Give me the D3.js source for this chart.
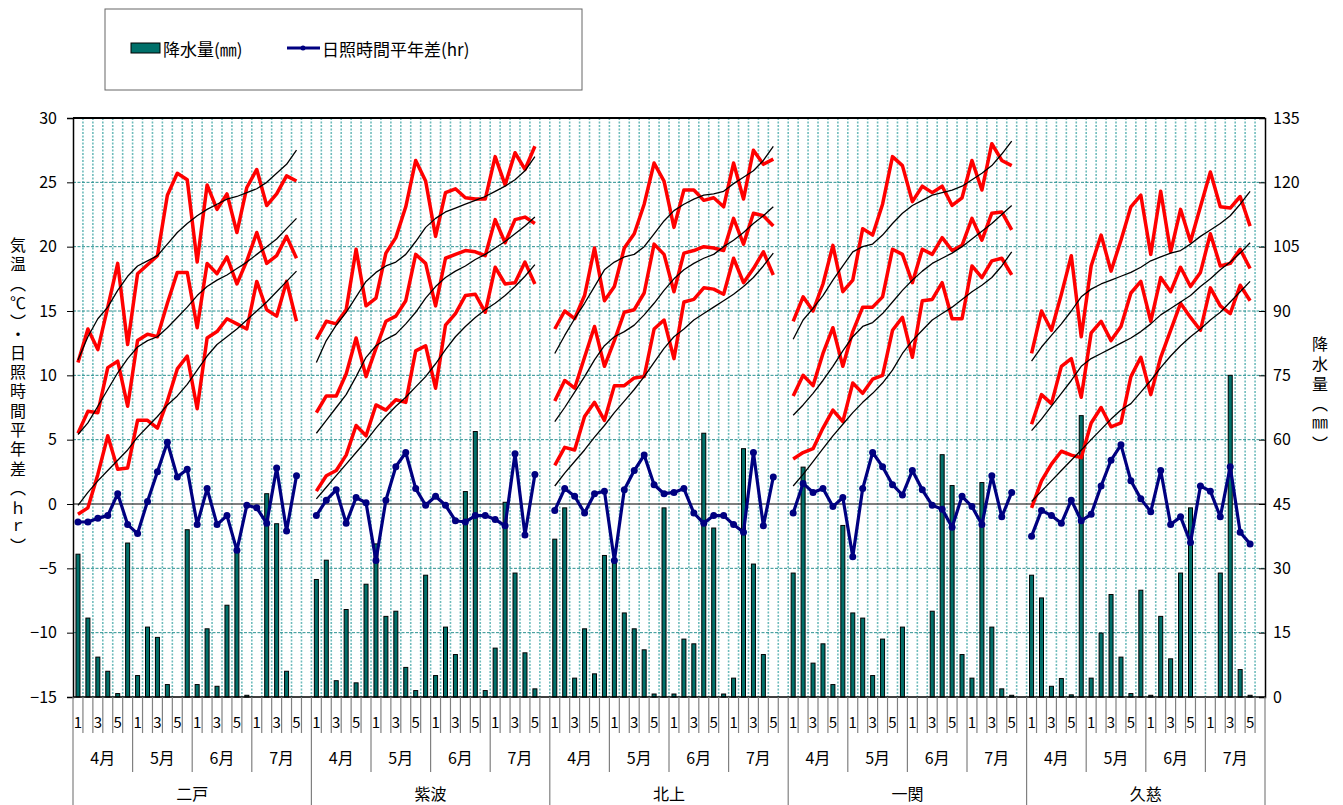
<!DOCTYPE html>
<html>
<head>
<meta charset="utf-8">
<script src="https://cdn.jsdelivr.net/npm/d3@7"></script>
<style>
body { margin: 0; background: #fff; }
svg text { font-family: "Noto Sans CJK JP", "Noto Sans", sans-serif; fill: #000; }
</style>
</head>
<body>
<div id="chart"></div>
<script>
// station / month / pentad labels
var stations = ["二戸", "紫波", "北上", "一関", "久慈"];
var months = ["4月", "5月", "6月", "7月"];
var pentads = ["1", "", "3", "", "5", ""];

// one array per station, pentads 4月1 .. 7月5 (23 values)
var maxTemp = [
  [11.0,13.6,12.0,15.3,18.7,12.4,17.9,18.6,19.3,24.0,25.7,25.2,18.8,24.8,22.9,24.1,21.1,24.6,26.0,23.2,24.1,25.5,25.1],
  [12.8,14.2,14.0,15.1,19.8,15.4,16.0,19.5,20.7,23.1,26.7,25.1,20.8,24.2,24.5,23.8,23.7,23.7,27.0,24.8,27.3,26.0,27.8],
  [13.6,15.0,14.4,16.2,19.9,15.8,16.9,19.9,21.0,23.3,26.5,25.1,21.5,24.4,24.4,23.6,23.8,23.1,26.5,23.7,27.5,26.4,26.8],
  [14.2,16.1,15.0,17.1,20.1,16.5,17.4,21.4,20.9,23.3,27.0,26.3,23.5,24.7,24.2,24.7,23.2,23.8,26.7,24.4,28.0,26.7,26.3],
  [11.7,15.0,13.5,16.3,19.3,13.0,18.5,20.9,18.1,20.5,23.1,24.0,19.4,24.3,19.6,22.9,20.4,23.1,25.8,23.1,23.0,23.9,21.6]
];
var maxNormal = [
  [11.2,13.0,14.4,15.3,16.6,17.7,18.5,18.9,19.3,20.2,21.1,21.8,22.4,22.9,23.3,23.7,23.9,24.2,24.5,25.0,25.7,26.4,27.5],
  [11.0,12.7,13.9,14.9,16.1,17.3,18.0,18.5,18.8,19.4,20.4,21.5,22.2,22.7,23.0,23.3,23.6,23.9,24.3,24.7,25.2,25.9,27.0],
  [11.7,13.1,14.4,15.6,16.9,18.2,18.8,19.2,19.4,20.0,21.0,22.0,22.8,23.3,23.7,24.0,24.1,24.3,24.9,25.4,25.9,26.7,27.8],
  [12.8,14.3,15.2,16.2,17.4,18.5,19.6,20.0,20.2,20.9,21.8,22.6,23.2,23.6,24.0,24.2,24.4,24.7,25.2,25.7,26.3,27.2,28.2],
  [11.1,12.2,13.1,14.0,15.0,16.1,16.7,17.1,17.4,17.7,18.0,18.4,18.9,19.2,19.5,19.7,20.2,20.8,21.3,21.8,22.4,23.3,24.3]
];
var meanTemp = [
  [5.5,7.2,7.1,10.6,11.1,7.6,12.7,13.2,13.0,15.6,18.0,18.0,13.7,18.7,17.9,19.2,17.1,18.9,21.1,18.7,19.3,20.8,19.1],
  [7.1,8.4,8.4,10.1,12.9,9.9,12.1,14.2,14.6,15.8,19.4,18.7,15.4,19.1,19.4,19.7,19.6,19.3,22.1,20.3,22.1,22.3,21.8],
  [8.0,9.6,9.0,11.4,13.8,10.7,12.7,14.9,15.1,16.4,20.2,19.4,16.5,19.5,19.7,20.0,19.9,19.7,22.2,20.2,22.6,22.4,21.6],
  [8.4,10.0,9.2,11.7,13.7,10.7,13.4,15.3,15.3,16.1,19.8,19.4,17.2,19.8,19.4,20.7,19.7,20.1,22.2,20.5,22.6,22.7,21.3],
  [6.2,8.5,7.8,10.7,11.3,8.3,13.3,14.2,12.7,13.8,16.4,17.3,14.2,17.6,16.5,18.4,16.9,18.0,21.0,18.5,18.7,19.8,18.3]
];
var meanNormal = [
  [5.4,6.3,7.6,8.9,10.2,11.3,12.2,12.7,13.0,13.7,14.5,15.3,16.2,16.9,17.4,17.8,18.3,18.8,19.4,20.0,20.6,21.4,22.2],
  [5.5,6.5,7.5,8.5,9.9,11.4,12.3,12.8,13.2,14.0,14.9,16.0,16.9,17.6,18.1,18.5,19.0,19.4,19.9,20.4,21.0,21.6,22.3],
  [6.4,7.5,8.7,9.9,11.2,12.3,13.0,13.4,13.9,14.7,15.6,16.6,17.5,18.2,18.7,19.1,19.4,20.0,20.5,21.1,21.8,22.4,23.1],
  [6.9,7.7,8.6,9.6,10.7,11.9,13.0,13.8,14.1,14.8,15.7,16.6,17.4,18.1,18.7,19.1,19.5,20.0,20.6,21.2,21.8,22.5,23.2],
  [5.7,6.6,7.6,8.6,9.6,10.7,11.3,11.7,12.1,12.5,12.9,13.4,14.0,14.7,15.2,15.7,16.2,16.9,17.5,18.2,18.8,19.5,20.3]
];
var minTemp = [
  [-0.8,-0.3,2.3,5.3,2.7,2.8,6.5,6.5,5.9,8.0,10.5,11.5,7.4,12.9,13.4,14.4,14.0,13.6,17.3,15.1,14.6,17.3,14.2],
  [1.0,2.2,2.6,3.8,6.1,5.3,7.7,7.3,8.1,7.9,11.9,12.3,9.0,13.9,14.8,16.2,16.3,14.9,18.4,17.1,17.2,18.8,17.1],
  [3.0,4.4,4.2,6.8,7.9,6.5,9.2,9.2,9.8,9.9,13.6,14.3,11.3,15.7,15.9,16.8,16.7,16.3,19.1,17.2,18.3,19.6,17.8],
  [3.5,4.0,4.3,5.9,7.3,6.4,9.4,8.6,9.7,10.0,13.5,14.5,11.4,15.8,15.9,17.2,14.4,14.4,18.5,17.6,18.9,19.1,17.8],
  [-0.3,1.8,3.1,4.1,3.8,3.6,6.3,7.5,6.0,6.3,9.9,11.4,8.5,11.4,13.5,15.6,14.5,13.5,16.8,15.4,14.8,17.0,15.8]
];
var minNormal = [
  [-0.1,0.9,1.8,2.6,3.4,4.2,5.2,6.0,6.8,7.7,8.4,9.3,10.4,11.5,12.4,13.0,13.6,14.3,15.0,15.7,16.5,17.3,18.1],
  [0.4,1.3,2.2,3.1,4.0,4.9,5.9,6.8,7.6,8.3,9.1,9.9,10.9,12.0,13.0,13.8,14.5,15.1,15.6,16.2,16.9,17.7,18.6],
  [1.4,2.4,3.3,4.2,5.2,6.1,7.1,8.0,8.9,9.9,11.0,12.1,13.0,13.6,14.3,14.8,15.3,15.8,16.3,16.9,17.6,18.5,19.5],
  [1.4,2.3,3.3,4.3,5.3,6.2,7.1,7.9,8.6,9.4,10.4,11.7,12.7,13.5,14.3,14.8,15.3,15.9,16.5,17.0,17.6,18.5,19.6],
  [0.2,1.0,1.8,2.6,3.4,4.2,5.0,5.8,6.6,7.3,7.8,8.7,9.6,10.6,11.5,12.3,13.0,13.6,14.3,14.9,15.7,16.5,17.3]
];
var sunshine = [
  [-1.4,-1.4,-1.1,-0.9,0.8,-1.6,-2.3,0.2,2.5,4.8,2.1,2.7,-1.6,1.2,-1.6,-0.9,-3.6,-0.1,-0.3,-1.5,2.8,-2.1,2.2],
  [-0.9,0.3,1.1,-1.5,0.5,0.1,-4.4,0.3,2.9,4.0,1.2,-0.1,0.6,-0.1,-1.3,-1.4,-0.9,-0.9,-1.2,-1.7,3.9,-2.4,2.3],
  [-0.5,1.2,0.6,-0.7,0.8,1.0,-4.4,1.1,2.6,3.8,1.5,0.8,0.9,1.2,-0.7,-1.5,-0.9,-0.9,-1.6,-2.2,4.0,-1.7,2.1],
  [-0.7,1.6,0.9,1.2,-0.2,0.5,-4.1,1.2,4.0,2.9,1.5,0.7,2.6,1.1,-0.1,-0.4,-1.8,0.6,-0.2,-1.6,2.2,-1.0,0.9],
  [-2.5,-0.5,-0.9,-1.5,0.3,-1.3,-0.8,1.4,3.4,4.6,1.8,0.4,-0.6,2.6,-1.6,-1.0,-3.0,1.4,1.0,-1.0,2.9,-2.2,-3.1]
];
var rain = [
  [33.3,18.4,9.3,6.0,0.8,35.9,5.0,16.3,13.9,2.9,0,39.0,2.9,15.9,2.5,21.4,34.0,0.4,0,47.4,40.4,6.0,0],
  [27.4,31.9,3.8,20.4,3.3,26.3,35.7,18.8,20.0,6.9,1.5,28.4,5.0,16.3,9.9,47.9,61.9,1.5,11.4,45.4,28.9,10.3,1.9],
  [36.8,44.1,4.4,15.9,5.4,33.0,31.2,19.6,15.9,11.0,0.7,44.1,0.7,13.5,12.4,61.5,39.4,0.7,4.4,57.9,31.0,9.9,0],
  [28.9,53.6,7.9,12.4,2.9,40.0,19.6,18.4,5.0,13.5,0,16.3,0,0,20.0,56.5,49.3,9.9,4.4,50.0,16.3,1.9,0.4],
  [28.4,23.1,2.5,4.3,0.5,65.6,4.4,14.9,23.9,9.3,0.8,24.9,0.4,18.8,8.9,28.9,44.1,0,0,28.9,75.0,6.4,0.4]
];

var width = 1343, height = 805;
var margin = { left: 73, right: 1265, top: 118, bottom: 697 };
var perStation = 24;
var nSlots = stations.length * perStation;

var svg = d3.select("#chart").append("svg")
  .attr("width", width)
  .attr("height", height);

var x = d3.scaleBand().domain(d3.range(nSlots)).range([margin.left, margin.right]);
var bw = x.bandwidth();
var cx = function(s, j) { return x(s * perStation + j) + bw / 2; };

var yT = d3.scaleLinear().domain([-15, 30]).range([margin.bottom, margin.top]);
var yR = d3.scaleLinear().domain([0, 135]).range([margin.bottom, margin.top]);

// vertical grid (every pentad)
svg.append("g").selectAll("line")
  .data(d3.range(1, nSlots))
  .enter().append("line")
  .attr("x1", function(i) { return x(i); })
  .attr("x2", function(i) { return x(i); })
  .attr("y1", margin.top).attr("y2", margin.bottom)
  .attr("stroke", "#6fbcbc")
  .attr("stroke-width", 1.6)
  .attr("stroke-dasharray", "2,1.5");

// horizontal grid
svg.append("g").selectAll("line")
  .data([25, 20, 15, 10, 5, -5, -10])
  .enter().append("line")
  .attr("x1", margin.left).attr("x2", margin.right)
  .attr("y1", function(d) { return yT(d); })
  .attr("y2", function(d) { return yT(d); })
  .attr("stroke", "#2a9090")
  .attr("stroke-width", 1)
  .attr("stroke-dasharray", "3,1.5");

// zero line
svg.append("line")
  .attr("x1", margin.left).attr("x2", margin.right)
  .attr("y1", yT(0)).attr("y2", yT(0))
  .attr("stroke", "#555").attr("stroke-width", 1.6);

// rain bars
stations.forEach(function(st, s) {
  var g = svg.append("g");
  rain[s].forEach(function(d, j) {
    if (d <= 0) return;
    g.append("rect")
      .attr("x", cx(s, j) - 2)
      .attr("y", yR(d))
      .attr("width", 4)
      .attr("height", yR(0) - yR(d))
      .attr("fill", "#00706a")
      .attr("stroke", "#000")
      .attr("stroke-width", 1);
  });
});

function drawLine(series, color, w) {
  stations.forEach(function(st, s) {
    var line = d3.line()
      .x(function(d, j) { return cx(s, j); })
      .y(function(d) { return yT(d); });
    svg.append("path")
      .attr("d", line(series[s]))
      .attr("fill", "none")
      .attr("stroke", color)
      .attr("stroke-width", w)
      .attr("stroke-linejoin", "round");
  });
}

drawLine(minTemp, "#ff0000", 3.5);
drawLine(meanTemp, "#ff0000", 3.5);
drawLine(maxTemp, "#ff0000", 3.5);
drawLine(minNormal, "#000", 1.3);
drawLine(meanNormal, "#000", 1.3);
drawLine(maxNormal, "#000", 1.3);
drawLine(sunshine, "#000080", 3.2);

stations.forEach(function(st, s) {
  svg.append("g").selectAll("circle")
    .data(sunshine[s])
    .enter().append("circle")
    .attr("cx", function(d, j) { return cx(s, j); })
    .attr("cy", function(d) { return yT(d); })
    .attr("r", 3.5)
    .attr("fill", "#000080");
});

// frame
svg.append("line").attr("x1", margin.left).attr("x2", margin.right)
  .attr("y1", margin.top).attr("y2", margin.top)
  .attr("stroke", "#000").attr("stroke-width", 2);
svg.append("line").attr("x1", margin.left).attr("x2", margin.right)
  .attr("y1", margin.bottom).attr("y2", margin.bottom)
  .attr("stroke", "#000").attr("stroke-width", 1.5);

// left axis
var axL = svg.append("g")
  .attr("transform", "translate(" + margin.left + ",0)")
  .call(d3.axisLeft(yT).tickValues(d3.range(-15, 31, 5)).tickSize(6).tickPadding(10));
axL.selectAll("text").style("font-size", "16px");
axL.select(".domain").attr("stroke-width", 1.5);

// right axis
var axR = svg.append("g")
  .attr("transform", "translate(" + margin.right + ",0)")
  .call(d3.axisRight(yR).tickValues(d3.range(0, 136, 15)).tickSize(-6).tickPadding(8));
axR.selectAll("text").style("font-size", "16px");
axR.select(".domain").attr("stroke-width", 1.5);

// category axis
var xa = svg.append("g");
d3.range(nSlots + 1).forEach(function(i) {
  var xx = i < nSlots ? x(i) : margin.right;
  var y2 = 733;
  if (i % 6 === 0) y2 = 772;
  if (i % perStation === 0) y2 = 806;
  xa.append("line")
    .attr("x1", xx).attr("x2", xx)
    .attr("y1", margin.bottom).attr("y2", y2)
    .attr("stroke", "#808080").attr("stroke-width", 1.2);
});
stations.forEach(function(st, s) {
  months.forEach(function(m, mi) {
    pentads.forEach(function(p, pi) {
      if (!p) return;
      xa.append("text")
        .attr("x", cx(s, mi * 6 + pi))
        .attr("y", 721)
        .attr("text-anchor", "middle")
        .attr("dominant-baseline", "central")
        .style("font-size", "15px")
        .text(p);
    });
    xa.append("text")
      .attr("x", x(s * perStation + mi * 6) + bw * 3)
      .attr("y", 757)
      .attr("text-anchor", "middle")
      .attr("dominant-baseline", "central")
      .style("font-size", "16px")
      .text(m);
  });
  xa.append("text")
    .attr("x", x(s * perStation) + bw * 12)
    .attr("y", 793)
    .attr("text-anchor", "middle")
    .attr("dominant-baseline", "central")
    .style("font-size", "16px")
    .text(st);
});

// vertical axis titles (one text each, vertical writing)
svg.append("text")
  .attr("x", 18).attr("y", 397)
  .attr("text-anchor", "middle")
  .style("writing-mode", "vertical-rl")
  .style("font-size", "16px")
  .style("letter-spacing", "3.3px")
  .text("気温（℃）・日照時間平年差（ｈｒ）");
svg.append("text")
  .attr("x", 1320).attr("y", 396)
  .attr("text-anchor", "middle")
  .style("writing-mode", "vertical-rl")
  .style("font-size", "16px")
  .style("letter-spacing", "4px")
  .text("降水量（㎜）");

// legend
var lg = svg.append("g");
lg.append("rect").attr("x", 105).attr("y", 9).attr("width", 477).attr("height", 81)
  .attr("fill", "#fff").attr("stroke", "#666").attr("stroke-width", 1);
lg.append("rect").attr("x", 131).attr("y", 43).attr("width", 29).attr("height", 10)
  .attr("fill", "#00706a").attr("stroke", "#000").attr("stroke-width", 1);
lg.append("text").attr("x", 163).attr("y", 48).attr("dominant-baseline", "central")
  .style("font-size", "17px").text("降水量(㎜)");
lg.append("line").attr("x1", 287).attr("x2", 320).attr("y1", 48).attr("y2", 48)
  .attr("stroke", "#000080").attr("stroke-width", 3);
lg.append("circle").attr("cx", 303).attr("cy", 48).attr("r", 2.5).attr("fill", "#000080");
lg.append("text").attr("x", 322).attr("y", 48).attr("dominant-baseline", "central")
  .style("font-size", "17px").text("日照時間平年差(hr)");
</script>
</body>
</html>
